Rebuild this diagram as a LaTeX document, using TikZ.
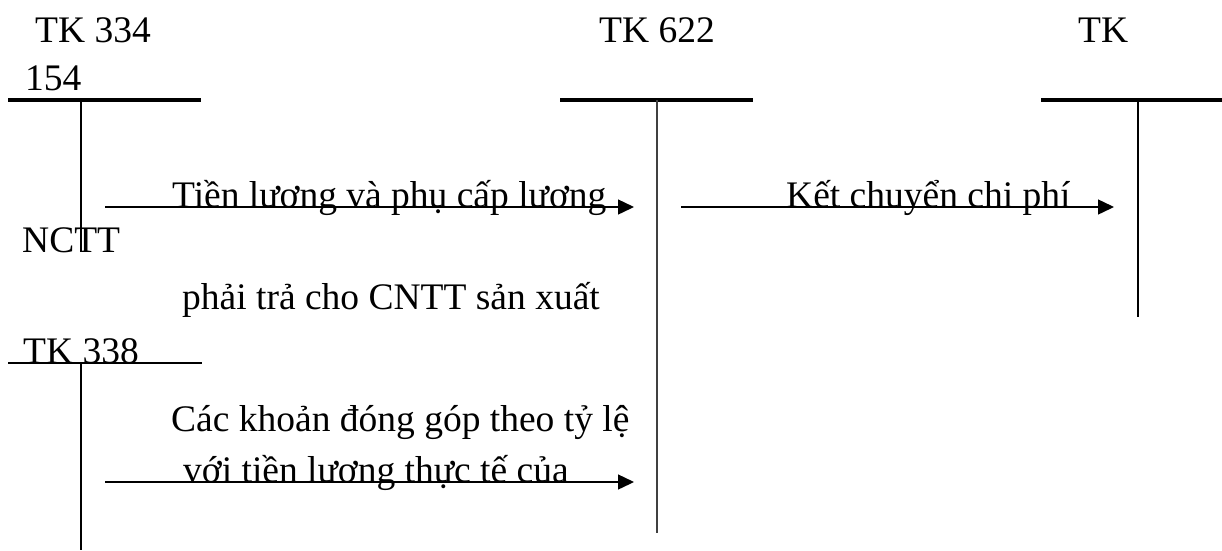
\documentclass[tikz,border=0pt]{standalone}
\usepackage{fontspec}
\setmainfont{Liberation Serif}
\usetikzlibrary{arrows.meta}
\begin{document}
\begin{tikzpicture}[x=1pt,y=-1pt,
  lbl/.style={anchor=base west,inner sep=0pt,font=\fontsize{37.5}{44}\selectfont},
  acctop/.style={line width=3.2pt},
  accstem/.style={line width=1.4pt},
  flow/.style={line width=1.4pt,-{Triangle[length=16pt,width=15pt]}}]
\useasboundingbox (0,0) rectangle (1222,550);

% account headings
\node[lbl] (tk334) at (35,42) {TK 334};
\node[lbl] (n154) at (25,90) {154};
\node[lbl] (tk622) at (599,42) {TK 622};
\node[lbl] (tk) at (1078,42) {TK};
\node[lbl] (nctt) at (22,252) {NCTT};
\node[lbl] (tk338) at (23,363) {TK 338};

% T-account frames
\coordinate (a1l) at (8,100);   \coordinate (a1r) at (201,100);
\coordinate (a1t) at (81,100);  \coordinate (a1b) at (81,252);
\coordinate (a2l) at (560,100); \coordinate (a2r) at (753,100);
\coordinate (a2t) at (657,100); \coordinate (a2b) at (657,533);
\coordinate (a3l) at (1041,100);\coordinate (a3r) at (1222,100);
\coordinate (a3t) at (1138,100);\coordinate (a3b) at (1138,317);
\coordinate (a4l) at (8,363);   \coordinate (a4r) at (202,363);
\coordinate (a4t) at (81,363);  \coordinate (a4b) at (81,550);

\draw[acctop] (a1l) -- (a1r);
\draw[accstem] (a1t) -- (a1b);
\draw[acctop] (a2l) -- (a2r);
\draw[accstem,line width=2pt,black!75] (a2t) -- (a2b);
\draw[acctop] (a3l) -- (a3r);
\draw[accstem] (a3t) -- (a3b);
\draw[accstem] (a4l) -- (a4r);
\draw[accstem] (a4t) -- (a4b);

% entries
\coordinate (f1s) at (105,207); \coordinate (f1e) at (634,207);
\coordinate (f2s) at (681,207); \coordinate (f2e) at (1114,207);
\coordinate (f3s) at (105,482); \coordinate (f3e) at (634,482);

\draw[flow] (f1s) -- (f1e);
\draw[flow] (f2s) -- (f2e);
\draw[flow] (f3s) -- (f3e);

\node[lbl] (t1) at (172,207) {Tiền lương và phụ cấp lương};
\node[lbl] (t2) at (786,207) {Kết chuyển chi phí};
\node[lbl] (t3) at (182,309) {phải trả cho CNTT sản xuất};
\node[lbl] (t4) at (171,431) {Các khoản đóng góp theo tỷ lệ};
\node[lbl] (t5) at (183,482) {với tiền lương thực tế của};
\end{tikzpicture}
\end{document}
